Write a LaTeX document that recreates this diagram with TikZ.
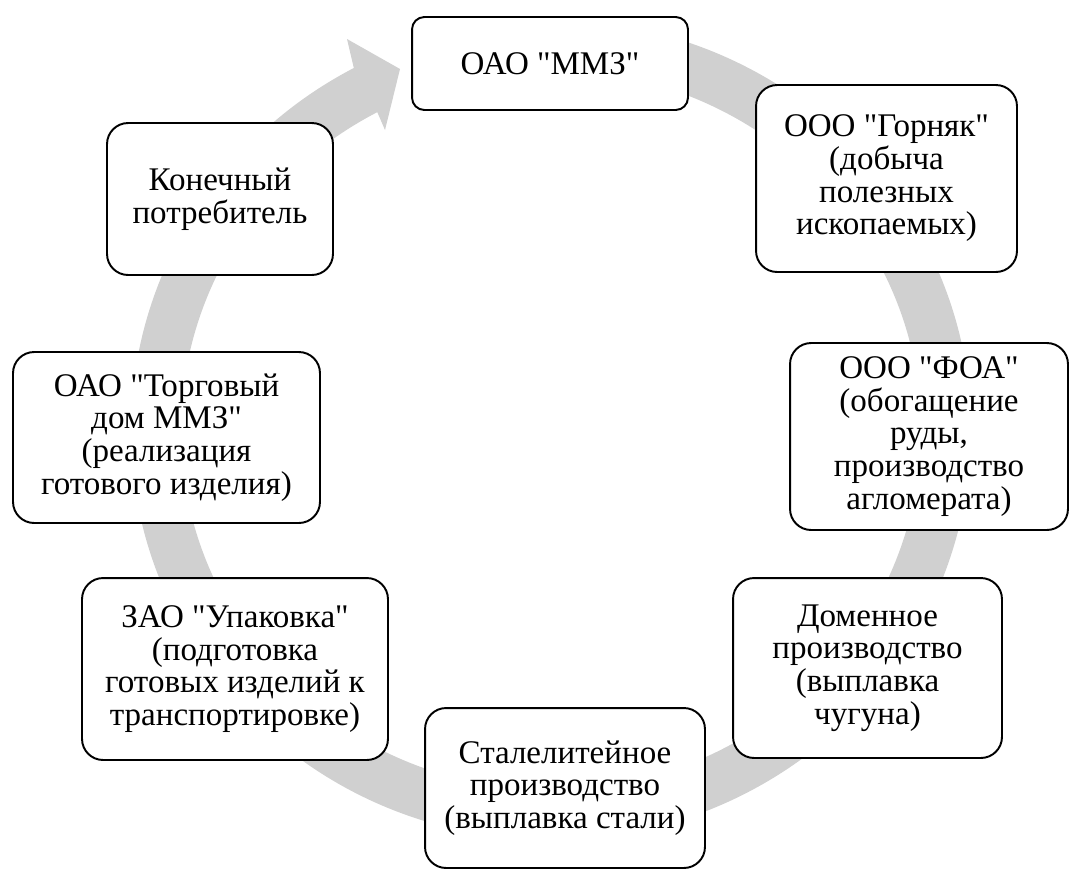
\documentclass[tikz,border=0pt]{standalone}
\usepackage{fontspec}
\newfontfamily\boxfont{Liberation Serif}
\usetikzlibrary{calc}
\definecolor{CycGray}{RGB}{208,208,208}

\begin{document}
\begin{tikzpicture}[
  x=0.02cm, y=0.02cm,
  box/.style  = {draw, rounded corners=12pt, fill=white, line width=1.1pt,
                 align=center, inner sep=2pt,
                 font=\boxfont\fontsize{18.8}{18.6}\selectfont},
  ring/.style = {fill=CycGray}
]
\useasboundingbox (0,0) rectangle (1071,-870);
\coordinate (O) at (551,-430);
% grey circular arrow behind the boxes
\fill[ring] ($(O)+(80:420 and 410)$)
  arc[start angle=80, end angle=-242, x radius=420, y radius=410]
  -- (347,-39) -- (400,-69) -- (385,-130)
  -- ($(O)+(118:370 and 360)$)
  arc[start angle=-242, end angle=80, x radius=370, y radius=360]
  -- cycle;
\node[box, rounded corners=7pt, minimum width=5.52cm, minimum height=1.86cm]
  (mmz) at (550,-63.5) {ОАО "ММЗ"};
\node[box, minimum width=5.22cm, minimum height=3.74cm] (gornyak) at (886.5,-178.5)
  {ООО "Горняк"\\(добыча\\полезных\\ископаемых)};
\node[box, minimum width=5.56cm, minimum height=3.74cm] (foa) at (929,-436.5)
  {ООО "ФОА"\\(обогащение\\руды,\\производство\\агломерата)};
\node[box, minimum width=5.38cm, minimum height=3.6cm] (domna) at (867.5,-668)
  {Доменное\\производство\\(выплавка\\чугуна)};
\node[box, minimum width=5.6cm, minimum height=3.2cm] (stal) at (565,-788)
  {Сталелитейное\\производство\\(выплавка стали)};
\node[box, minimum width=6.12cm, minimum height=3.64cm] (upak) at (235,-669)
  {ЗАО "Упаковка"\\(подготовка\\готовых изделий к\\транспортировке)};
\node[box, minimum width=6.14cm, minimum height=3.42cm] (torg) at (166.5,-437.5)
  {ОАО "Торговый\\дом ММЗ"\\(реализация\\готового изделия)};
\node[box, minimum width=4.52cm, minimum height=3.04cm] (konech) at (220,-199)
  {Конечный\\потребитель};
\end{tikzpicture}
\end{document}
